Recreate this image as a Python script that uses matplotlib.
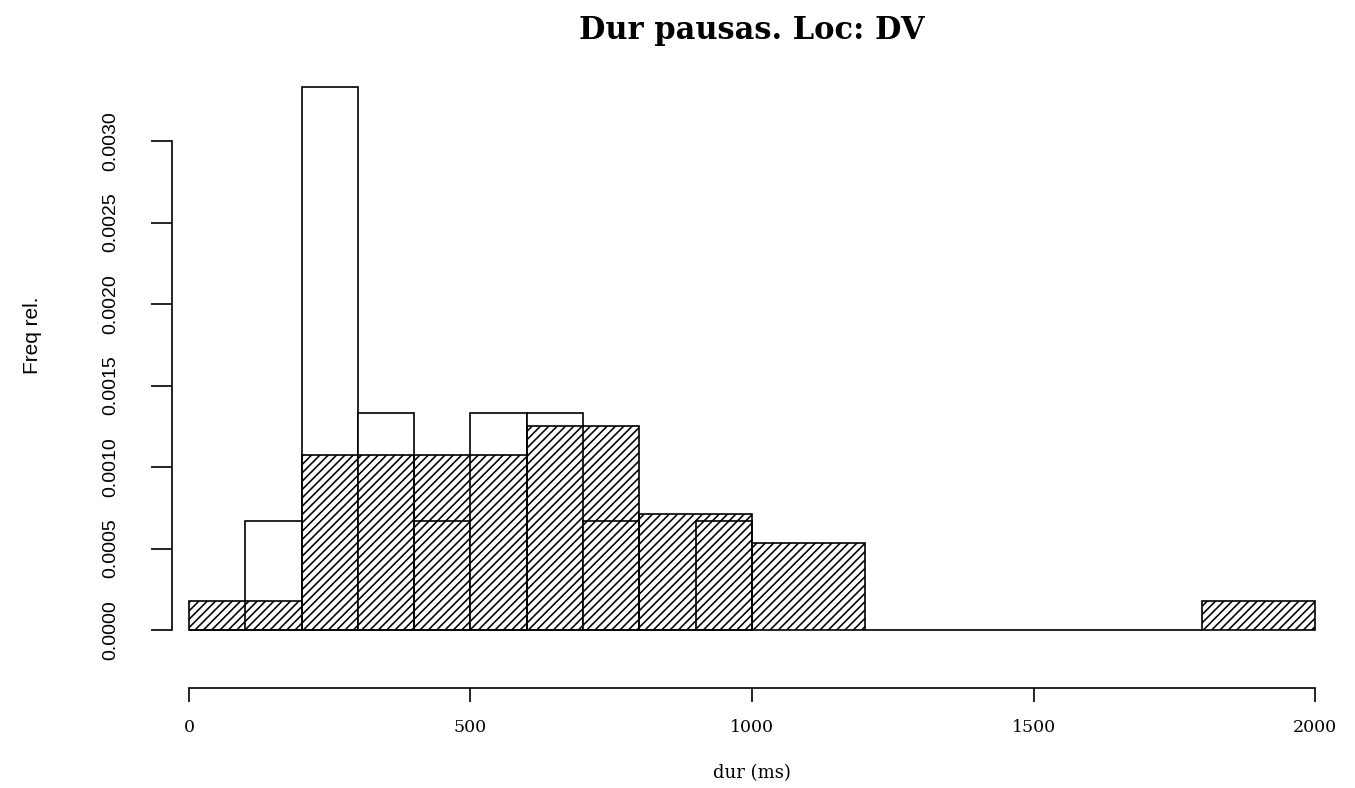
import matplotlib
matplotlib.use('Agg')
import matplotlib.pyplot as plt
import numpy as np

# histogram 1 (outline only), bins of 100 ms
breaks_a = [0, 100, 200, 300, 400, 500, 600, 700, 800, 900, 1000]
dens_a = [0.0, 0.000667, 0.003333, 0.001333, 0.000667, 0.001333, 0.001333, 0.000667, 0.0, 0.000667]

# histogram 2 (hatched), bins of 200 ms
breaks_b = [0, 200, 400, 600, 800, 1000, 1200, 1400, 1600, 1800, 2000]
dens_b = [0.000179, 0.001071, 0.001071, 0.00125, 0.000714, 0.000536, 0.0, 0.0, 0.0, 0.000179]

x_ticks = [0, 500, 1000, 1500, 2000]
y_ticks = [0.0, 0.0005, 0.0010, 0.0015, 0.0020, 0.0025, 0.0030]

W, H = 1355, 788
plt.rcParams['hatch.linewidth'] = 1.15
plt.rcParams['hatch.color'] = '#3a3a3a'

fig = plt.figure(figsize=(W / 100, H / 100), dpi=100)
# axes placed in pixels: left 172, right 1332, bottom 688, top 80
ax = fig.add_axes([172 / W, (H - 688) / H, (1332 - 172) / W, (688 - 80) / H])
ax.set_xlim(-30, 2030)
ax.set_ylim(-(688 - 630) / 163000, (630 - 80) / 163000)

wa = np.diff(breaks_a)
ax.bar(breaks_a[:-1], dens_a, width=wa, align='edge', facecolor='white',
       edgecolor='black', linewidth=1.2, zorder=2)
wb = np.diff(breaks_b)
ax.bar(breaks_b[:-1], dens_b, width=wb, align='edge', fill=False, hatch='////',
       edgecolor='black', linewidth=1.2, zorder=3)

for s in ['top', 'right']:
    ax.spines[s].set_visible(False)
ax.spines['left'].set_bounds(0, 0.003)
ax.spines['bottom'].set_bounds(0, 2000)
ax.spines['left'].set_linewidth(1.2)
ax.spines['bottom'].set_linewidth(1.2)

ax.set_xticks(x_ticks)
ax.set_xticklabels([str(t) for t in x_ticks], family='DejaVu Serif', fontsize=12.5)
ax.set_yticks(y_ticks)
ax.set_yticklabels([f'{t:.4f}' for t in y_ticks],
                   family='Liberation Sans', fontsize=14,
                   rotation=90, va='center')
ax.tick_params(axis='x', length=10, width=1.2, pad=12)
ax.tick_params(axis='y', length=15, width=1.2, pad=23)

fig.text(752 / W, 1 - 31 / H, 'Dur pausas. Loc: DV', ha='center', va='center',
         family='DejaVu Serif', fontweight='bold', fontsize=22)
fig.text(752 / W, 1 - 773 / H, 'dur (ms)', ha='center', va='center',
         family='DejaVu Serif', fontsize=13)
fig.text(32 / W, 1 - 335 / H, 'Freq rel.', ha='center', va='center', rotation=90,
         family='Liberation Sans', fontsize=15)

fig.savefig('out.png', dpi=100)
